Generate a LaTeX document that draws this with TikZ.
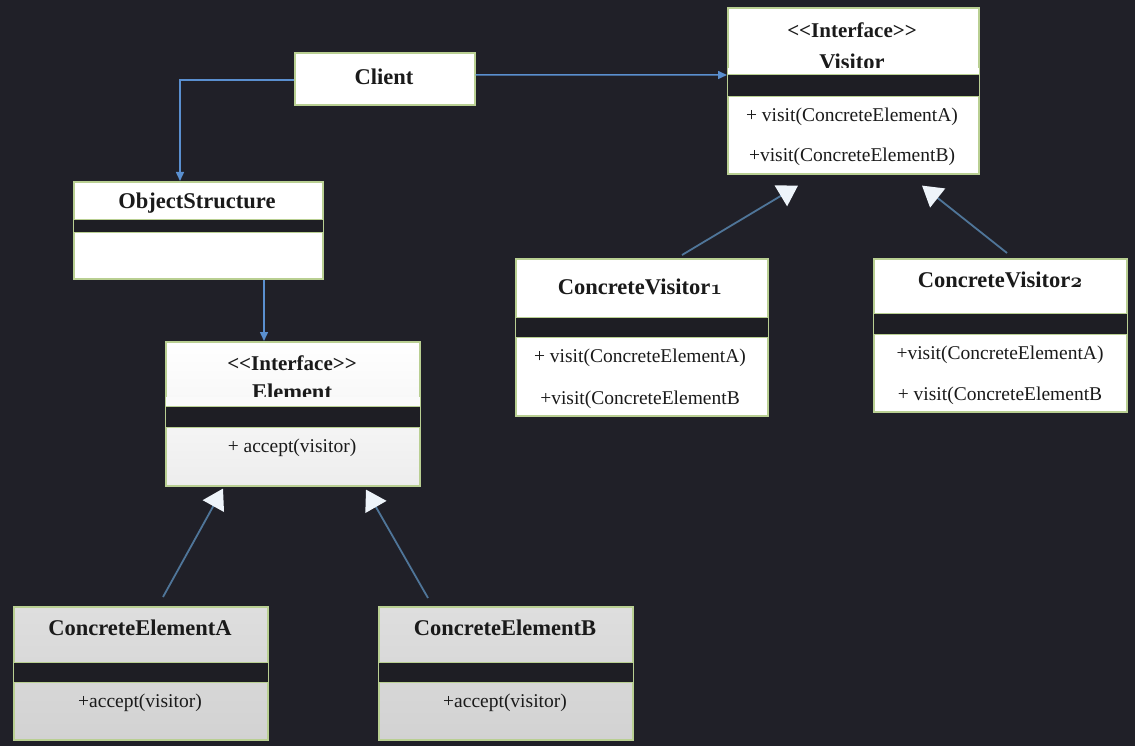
\documentclass[tikz,border=0pt]{standalone}
\usepackage{fontspec}
\setmainfont{Liberation Serif}
\usetikzlibrary{arrows.meta,calc}

\definecolor{bg}{HTML}{202028}
\definecolor{frame}{HTML}{B9CF92}
\definecolor{band}{HTML}{1E1E24}
\definecolor{assoc}{HTML}{5A8FCF}
\definecolor{genline}{HTML}{4F7599}
\definecolor{tipfill}{HTML}{EEF4FA}
\definecolor{greytop}{HTML}{DEDEDE}
\definecolor{greybot}{HTML}{D2D2D2}
\definecolor{ink}{HTML}{1A1A1A}

\tikzset{
  classbox/.style={draw=frame, line width=1.6pt, fill=white, anchor=north west,
    inner sep=0pt, minimum width=#1},
  greybox/.style={classbox=#1, fill=none, top color=greytop, bottom color=greybot},
  fadebox/.style={classbox=#1, fill=none, top color=white, bottom color=white!93!black},
  bandstrip/.style={fill=band, draw=frame, line width=1pt},
  titletext/.style={font=\fontsize{22.5}{26}\selectfont\bfseries, text=ink, inner sep=0pt},
  stereotext/.style={font=\fontsize{21}{25}\selectfont\bfseries, text=ink, inner sep=0pt},
  methodtext/.style={font=\fontsize{19.5}{23}\selectfont, text=ink, inner sep=0pt},
  assocline/.style={draw=assoc, line width=1.5pt, -{Triangle[length=9pt, width=8pt]}},
  genarrow/.style={draw=genline, line width=1.8pt,
    -{Triangle[length=20pt, width=24pt, color=tipfill]}},
}

% old-style digits taken from the bold math italic font
\newcommand{\osdigit}[1]{{\usefont{OML}{cmm}{b}{it}#1}}
\newcommand{\stereo}{<\kern0pt<Interface>\kern0pt>}

\begin{document}
\begin{tikzpicture}[x=1pt, y=-1pt]
  % canvas
  \fill[bg] (0,0) rectangle (1135,746);
  \useasboundingbox (0,0) rectangle (1135,746);

  % ---------- class frames ----------
  \node[classbox=180, minimum height=52] (client) at (294,52) {};
  \node[classbox=251, minimum height=166] (visitor) at (727,7) {};
  \node[classbox=249, minimum height=97] (objs) at (73,181) {};
  \node[fadebox=254, minimum height=144] (element) at (165,341) {};
  \node[classbox=252, minimum height=157] (cv1) at (515,258) {};
  \node[classbox=253, minimum height=153] (cv2) at (873,258) {};
  \node[greybox=254, minimum height=133] (cea) at (13,606) {};
  \node[greybox=254, minimum height=133] (ceb) at (378,606) {};

  % ---------- Client ----------
  \node[titletext] (client-name) at (384,77) {Client};

  % ---------- Visitor interface ----------
  \node[stereotext] (visitor-st) at (852,30) {\stereo};
  \node[titletext, anchor=base] (visitor-name) at (852,70) {Visitor};
  \fill[white] ($(visitor.north west)+(1,61.5)$) rectangle ($(visitor.north east)+(-1,68)$);
  \draw[bandstrip] ($(visitor.north west)+(0,68)$) rectangle ($(visitor.north east)+(0,90)$);
  \node[methodtext] (visitor-m1) at (852,117) {+ visit(ConcreteElementA)};
  \node[methodtext] (visitor-m2) at (852,157) {+visit(ConcreteElementB)};

  % ---------- ObjectStructure ----------
  \node[titletext] (objs-name) at (197,203) {ObjectStructure};
  \draw[bandstrip] ($(objs.north west)+(0,39)$) rectangle ($(objs.north east)+(0,52)$);

  % ---------- Element interface ----------
  \node[stereotext] (element-st) at (292,363) {\stereo};
  \node[titletext, anchor=base] (element-name) at (292,399) {Element};
  \fill[white!98!black] ($(element.north west)+(1,56)$) rectangle ($(element.north east)+(-1,65)$);
  \draw[bandstrip] ($(element.north west)+(0,65)$) rectangle ($(element.north east)+(0,86)$);
  \node[methodtext] (element-m1) at (292,448) {+ accept(visitor)};

  % ---------- ConcreteVisitor1 ----------
  \node[titletext] (cv1-name) at (640,287) {ConcreteVisitor\osdigit{1}};
  \draw[bandstrip] ($(cv1.north west)+(0,59)$) rectangle ($(cv1.north east)+(0,79)$);
  \node[methodtext] (cv1-m1) at (640,358) {+ visit(ConcreteElementA)};
  \node[methodtext] (cv1-m2) at (640,400) {+visit(ConcreteElementB};

  % ---------- ConcreteVisitor2 ----------
  \node[titletext] (cv2-name) at (1000,280) {ConcreteVisitor\osdigit{2}};
  \draw[bandstrip] ($(cv2.north west)+(0,55)$) rectangle ($(cv2.north east)+(0,76)$);
  \node[methodtext] (cv2-m1) at (1000,355) {+visit(ConcreteElementA)};
  \node[methodtext] (cv2-m2) at (1000,396) {+ visit(ConcreteElementB};

  % ---------- ConcreteElementA ----------
  \node[titletext] (cea-name) at (140,628) {ConcreteElementA};
  \draw[bandstrip] ($(cea.north west)+(0,56)$) rectangle ($(cea.north east)+(0,76)$);
  \node[methodtext] (cea-m1) at (140,703) {+accept(visitor)};

  % ---------- ConcreteElementB ----------
  \node[titletext] (ceb-name) at (505,628) {ConcreteElementB};
  \draw[bandstrip] ($(ceb.north west)+(0,56)$) rectangle ($(ceb.north east)+(0,76)$);
  \node[methodtext] (ceb-m1) at (505,703) {+accept(visitor)};

  % ---------- associations ----------
  \draw[assocline] ($(client.east)+(0,-4)$) -- ($(visitor.north west)+(0,68)$);
  \draw[assocline] ($(client.west)+(0,1)$) -| ($(objs.north west)+(107,0)$);
  \draw[assocline] ($(objs.south west)+(191,0)$) -- ($(element.north west)+(99,0)$);

  % ---------- generalisations ----------
  \coordinate (tipv1) at ($(visitor.south west)+(71,11)$);
  \coordinate (tipv2) at ($(visitor.south west)+(195,11)$);
  \coordinate (tipe1) at ($(element.south west)+(58,2)$);
  \coordinate (tipe2) at ($(element.south west)+(201,3)$);
  \draw[genarrow] ($(cv1.north west)+(167,-3)$) -- (tipv1);
  \draw[genarrow] ($(cv2.north west)+(134,-5)$) -- (tipv2);
  \draw[genarrow] ($(cea.north west)+(150,-9)$) -- (tipe1);
  \draw[genarrow] ($(ceb.north west)+(50,-8)$) -- (tipe2);
\end{tikzpicture}
\end{document}
